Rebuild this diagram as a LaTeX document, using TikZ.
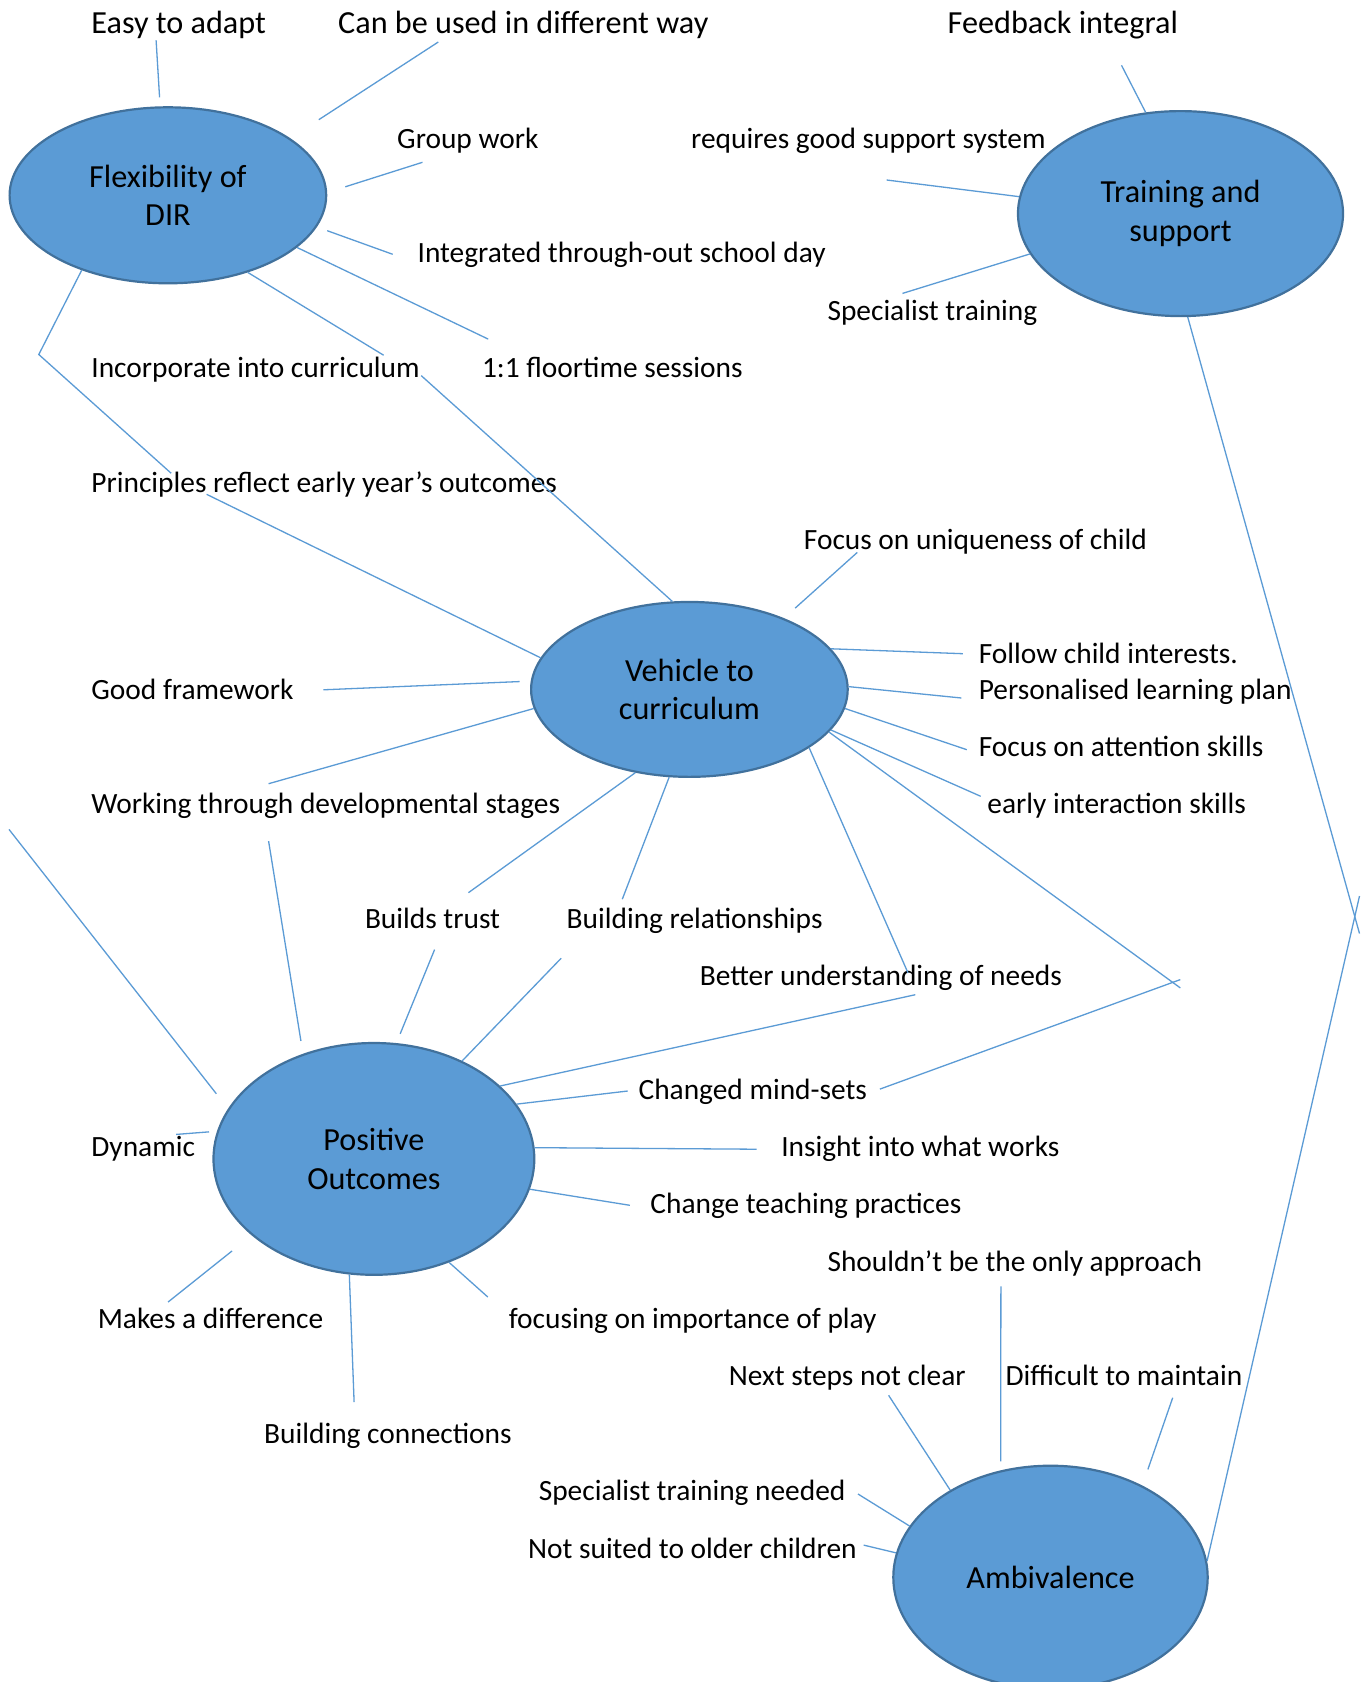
\documentclass[tikz,border=0pt]{standalone}
\usepackage{fontspec}
\setmainfont{Carlito}
\usetikzlibrary{shapes}
\definecolor{topicblue}{HTML}{5B9BD5}
\definecolor{topicedge}{HTML}{41719C}
\tikzstyle{bubble} = [draw=topicedge, ellipse, fill=topicblue, line width=2.2pt,
    inner sep=0pt, align=center, font=\fontsize{32.2}{38.6}\selectfont]
\tikzstyle{idea} = [anchor=base west, inner sep=0pt, font=\fontsize{29.4}{34}\selectfont]
\tikzstyle{bigidea} = [idea, font=\fontsize{32.2}{38}\selectfont]
\tikzstyle{spoke} = [draw=topicblue, line width=1.3pt]

\begin{document}
\begin{tikzpicture}[x=1pt, y=-1pt]
  \path[fill=white, use as bounding box] (0,0) rectangle (1367,1682);
  \clip (0,0) rectangle (1367,1682);
  \node [bubble, minimum width=316.6pt, minimum height=176pt] (dir) at (167.9,195.3) {Flexibility of\\DIR};
  \node [bubble, minimum width=325.1pt, minimum height=205pt] (train) at (1180.5,213.6) {Training and\\support};
  \node [bubble, minimum width=316.6pt, minimum height=174.9pt] (veh) at (689.4,689.4) {Vehicle to\\curriculum};
  \node [bubble, minimum width=320.8pt, minimum height=231.8pt] (pos) at (373.9,1158.9) {Positive\\Outcomes};
  \node [bubble, minimum width=314.4pt, minimum height=223.2pt] (amb) at (1050.5,1577.3) {Ambivalence};

  \node [bigidea] (easy) at (91.2,33.3) {Easy to adapt};
  \node [bigidea] (ways) at (338,33.3) {Can be used in different way};
  \node [bigidea] (feedback) at (947.5,33.3) {Feedback integral};
  \node [idea] (group) at (397,148.1) {Group work};
  \node [idea] (support) at (691,148.1) {requires good support system};
  \node [idea] (schoolday) at (417.4,262.9) {Integrated through-out school day};
  \node [idea] (spectrain) at (827.3,320.8) {Specialist training};
  \node [idea] (incorp) at (91.2,377.7) {Incorporate into curriculum};
  \node [idea] (floortime) at (481.8,377.7) {1:1 floortime sessions};
  \node [idea] (principles) at (91.2,492.5) {Principles reflect early year’s outcomes};
  \node [idea] (unique) at (803.7,549.4) {Focus on uniqueness of child};
  \node [idea] (interests) at (978.6,663.1) {Follow child interests.};
  \node [idea] (plan) at (978.6,699.6) {Personalised learning plan};
  \node [idea] (framework) at (91.2,699.6) {Good framework};
  \node [idea] (attention) at (978.6,756.5) {Focus on attention skills};
  \node [idea] (stages) at (91.2,813.3) {Working through developmental stages};
  \node [idea] (interaction) at (987.2,813.3) {early interaction skills};
  \node [idea] (trust) at (364.8,928.1) {Builds trust};
  \node [idea] (relations) at (566.5,928.1) {Building relationships};
  \node [idea] (needs) at (699.6,985) {Better understanding of needs};
  \node [idea] (mindsets) at (638.4,1099.8) {Changed mind-sets};
  \node [idea] (dynamic) at (91.2,1156.7) {Dynamic};
  \node [idea] (insight) at (781.1,1156.7) {Insight into what works};
  \node [idea] (practices) at (650.2,1213.6) {Change teaching practices};
  \node [idea] (onlyway) at (827.3,1271.5) {Shouldn’t be the only approach};
  \node [idea] (difference) at (97.6,1328.4) {Makes a difference};
  \node [idea] (play) at (508.6,1328.4) {focusing on importance of play};
  \node [idea] (nextsteps) at (728.6,1385.2) {Next steps not clear};
  \node [idea] (maintain) at (1005.4,1385.2) {Difficult to maintain};
  \node [idea] (connections) at (264,1443.2) {Building connections};
  \node [idea] (needed) at (538.6,1500.1) {Specialist training needed};
  \node [idea] (older) at (527.9,1558) {Not suited to older children};

  \coordinate (easyEnd) at (156.1,40.3);
  \coordinate (waysEnd) at (438.3,42);
  \coordinate (groupEnd) at (422.5,162.3);
  \coordinate (schooldayEnd) at (392.7,254.3);
  \coordinate (floortimeEnd) at (488.2,339.1);
  \coordinate (incorpEnd) at (383.6,355.2);
  \coordinate (incorpStart) at (421.2,375.6);
  \coordinate (bend) at (38.8,354.5);
  \coordinate (principlesEnd) at (171.1,473.2);
  \coordinate (principlesStart) at (206.6,494.3);
  \coordinate (uniqueEnd) at (857.3,552.4);
  \coordinate (interestsEnd) at (962.9,653.7);
  \coordinate (planEnd) at (961.4,698);
  \coordinate (attentionEnd) at (966.8,749.7);
  \coordinate (interactionEnd) at (980.7,796.3);
  \coordinate (crossA) at (1180.3,987.9);
  \coordinate (crossB) at (1180.3,979.6);
  \coordinate (mindsetsEnd) at (879.9,1089.1);
  \coordinate (needsEnd) at (908,972.9);
  \coordinate (relationsEnd) at (622.3,899.2);
  \coordinate (trustEnd) at (468.4,892.7);
  \coordinate (stagesEnd) at (268.6,783.7);
  \coordinate (frameworkEnd) at (323.3,689.8);
  \coordinate (farLeft) at (9,829.4);
  \coordinate (dynamicEnd) at (176.2,1134.4);
  \coordinate (differenceEnd) at (168.1,1302);
  \coordinate (connectionsEnd) at (354.1,1402);
  \coordinate (playEnd) at (487.8,1297);
  \coordinate (practicesEnd) at (629.9,1205.3);
  \coordinate (insightEnd) at (756.5,1149.2);
  \coordinate (mindsetsStart) at (627.7,1091);
  \coordinate (needsStart) at (915.3,994.7);
  \coordinate (relationsStart) at (561.2,958.2);
  \coordinate (trustStart) at (434.6,949.6);
  \coordinate (stagesStart) at (268.6,841.1);
  \coordinate (nextstepsEnd) at (888.6,1395.3);
  \coordinate (onlywayEnd) at (1000.9,1286.3);
  \coordinate (maintainEnd) at (1172.7,1397.7);
  \coordinate (neededEnd) at (858,1494);
  \coordinate (olderEnd) at (863.7,1545.1);
  \coordinate (rightA) at (1359.5,896);
  \coordinate (rightB) at (1359.5,933.5);
  \coordinate (feedbackEnd) at (1121.5,65.3);
  \coordinate (supportEnd) at (886.6,180);
  \coordinate (spectrainEnd) at (902.5,293.4);

  \draw [spoke, shorten <=9pt] (dir.95) -- (easyEnd);
  \draw [spoke, shorten <=34pt] (dir.25) -- (waysEnd);
  \draw [spoke, shorten <=19pt] (dir.1) -- (groupEnd);
  \draw [spoke, shorten <=11pt] (dir.-12.7) -- (schooldayEnd);
  \draw [spoke] (dir.-22.4) -- (floortimeEnd);
  \draw [spoke] (dir.-44.4) -- (incorpEnd);
  \draw [spoke] (dir.-139.7) -- (bend) -- (principlesEnd);

  \draw [spoke] (veh.101.7) -- (incorpStart);
  \draw [spoke] (veh.168.6) -- (principlesStart);
  \draw [spoke, shorten <=15pt] (veh.37.4) -- (uniqueEnd);
  \draw [spoke] (veh.16.7) -- (interestsEnd);
  \draw [spoke] (veh.1.2) -- (planEnd);
  \draw [spoke] (veh.-7.1) -- (attentionEnd);
  \draw [spoke] (veh.-16.9) -- (interactionEnd);
  \draw [spoke] (veh.-17.5) -- (crossA);
  \draw [spoke] (crossB) -- (mindsetsEnd);
  \draw [spoke] (veh.-26.3) -- (needsEnd);
  \draw [spoke] (veh.-103.5) -- (relationsEnd);
  \draw [spoke] (veh.-123) -- (trustEnd);
  \draw [spoke] (veh.-173.2) -- (stagesEnd);
  \draw [spoke, shorten <=11pt] (veh.177.3) -- (frameworkEnd);

  \draw [spoke, shorten <=19pt] (pos.161.3) -- (farLeft);
  \draw [spoke, shorten <=8pt] (pos.170.7) -- (dynamicEnd);
  \draw [spoke, shorten <=25pt] (pos.-148.8) -- (differenceEnd);
  \draw [spoke] (pos.-102.6) -- (connectionsEnd);
  \draw [spoke] (pos.-54) -- (playEnd);
  \draw [spoke] (pos.-11.6) -- (practicesEnd);
  \draw [spoke] (pos.4.2) -- (insightEnd);
  \draw [spoke] (pos.21.8) -- (mindsetsStart);
  \draw [spoke] (pos.30.2) -- (needsStart);
  \draw [spoke] (pos.48.1) -- (relationsStart);
  \draw [spoke, shorten <=10pt] (pos.79.8) -- (trustStart);
  \draw [spoke, shorten <=13pt] (pos.124.1) -- (stagesStart);

  \draw [spoke] (amb.139.5) -- (nextstepsEnd);
  \draw [spoke, shorten <=9pt] (amb.115.4) -- (onlywayEnd);
  \draw [spoke, shorten <=17pt] (amb.45.3) -- (maintainEnd);
  \draw [spoke] (amb.160.5) -- (neededEnd);
  \draw [spoke] (amb.171.4) -- (olderEnd);
  \draw [spoke] (amb.6.1) -- (rightA);

  \draw [spoke] (train.109.2) -- (feedbackEnd);
  \draw [spoke] (train.174.6) -- (supportEnd);
  \draw [spoke] (train.-165.6) -- (spectrainEnd);
  \draw [spoke] (train.-86.5) -- (rightB);
\end{tikzpicture}
\end{document}
